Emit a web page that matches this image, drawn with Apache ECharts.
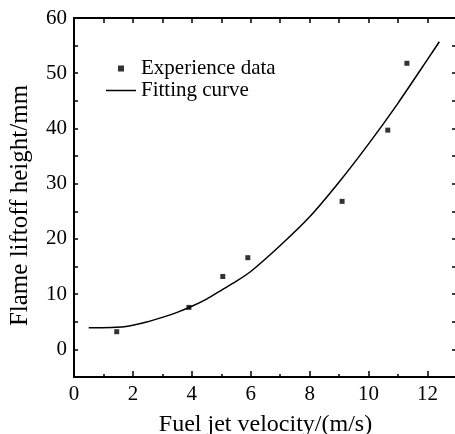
<!DOCTYPE html>
<html>
<head>
<meta charset="utf-8">
<script src="https://cdn.jsdelivr.net/npm/echarts@6/dist/echarts.min.js"></script>
<style>
  html, body { margin: 0; padding: 0; background: #fff; }
  #chart { width: 455px; height: 434px; }
</style>
</head>
<body>
<div id="chart"></div>
<script>
// 实验数据点
var expX = [1.45, 3.9, 5.05, 5.9, 9.1, 10.65, 11.3];
var expY = [3.2, 7.6, 13.2, 16.6, 26.8, 39.7, 51.8];
// 拟合曲线
var fitX = [0.5, 1.7, 2.5, 3.0, 3.5, 4.0, 4.5, 5.0, 5.5, 6.0, 7.0, 8.0, 9.0, 10.0, 11.0, 12.0, 12.4];
var fitY = [3.9, 4.1, 5.0, 5.8, 6.7, 7.8, 9.1, 10.7, 12.3, 14.1, 18.8, 24.0, 30.3, 37.2, 44.6, 52.5, 55.7];
var xTicks = [0, 2, 4, 6, 8, 10, 12];
var yTicks = [0, 10, 20, 30, 40, 50, 60];

var font = '"Liberation Serif", "DejaVu Serif", serif';
var myChart = echarts.init(document.getElementById('chart'));

function zip(a, b) {
    return a.map(function (v, i) { return [v, b[i]]; });
}

var axisLine = { show: true, onZero: false, lineStyle: { color: '#000', width: 2 } };

var option = {
    animation: false,
    grid: { left: 74, top: 18, right: -2, bottom: 57, outerBoundsMode: 'none', containLabel: false },
    legend: [
        {
            data: [{ name: 'Experience data', icon: 'path://M0,0H1V1H0Z' }],
            left: 113, top: 53,
            itemWidth: 30, itemHeight: 6,
            textStyle: { fontFamily: font, fontSize: 21, color: '#000' }
        },
        {
            data: [{ name: 'Fitting curve', icon: 'rect' }],
            left: 101, top: 75,
            itemWidth: 30, itemHeight: 1.5,
            textStyle: { fontFamily: font, fontSize: 21, color: '#000' }
        }
    ],
    xAxis: [
        {
            type: 'value', min: 0, max: 13, interval: 2,
            axisLine: axisLine,
            axisTick: { inside: true, length: 6, lineStyle: { color: '#000', width: 1.5 } },
            minorTick: { show: true, splitNumber: 2, length: 3, lineStyle: { color: '#000', width: 1.5 } },
            splitLine: { show: false },
            axisLabel: {
                showMaxLabel: false, margin: 7, fontFamily: font, fontSize: 21, color: '#000',
                formatter: function (v) { return xTicks.indexOf(v) >= 0 ? v : ''; }
            },
            name: 'Fuel jet velocity/(m/s)', nameLocation: 'middle', nameGap: 36,
            nameTextStyle: { fontFamily: font, fontSize: 24, color: '#000' }
        },
        {
            type: 'value', min: 0, max: 13, interval: 1, position: 'top',
            axisLine: axisLine,
            axisTick: { inside: true, length: 5, lineStyle: { color: '#000', width: 1.5 } },
            axisLabel: { show: false }, splitLine: { show: false }
        }
    ],
    yAxis: [
        {
            type: 'value', min: -5, max: 60, interval: 5,
            axisLine: axisLine,
            axisTick: { inside: true, length: 4, lineStyle: { color: '#000', width: 1.5 } },
            splitLine: { show: false },
            axisLabel: {
                margin: 7, fontFamily: font, fontSize: 21, color: '#000',
                formatter: function (v) { return yTicks.indexOf(v) >= 0 ? v : ''; }
            },
            name: 'Flame liftoff height/mm', nameLocation: 'middle', nameGap: 41,
            nameTextStyle: { fontFamily: font, fontSize: 25, color: '#000', padding: [0, 16, 0, 0] }
        },
        {
            type: 'value', min: -5, max: 60, interval: 5, position: 'right',
            axisLine: axisLine,
            axisTick: { inside: true, length: 5, lineStyle: { color: '#000', width: 1.5 } },
            axisLabel: { show: false }, splitLine: { show: false }
        }
    ],
    series: [
        {
            name: 'Experience data', type: 'scatter',
            symbol: 'rect', symbolSize: 5,
            itemStyle: { color: '#000' },
            data: zip(expX, expY)
        },
        {
            name: 'Fitting curve', type: 'line',
            showSymbol: false, smooth: 0.2,
            lineStyle: { color: '#000', width: 1.5 },
            itemStyle: { color: '#000' },
            data: zip(fitX, fitY)
        }
    ]
};

option && myChart.setOption(option);
</script>
</body>
</html>
